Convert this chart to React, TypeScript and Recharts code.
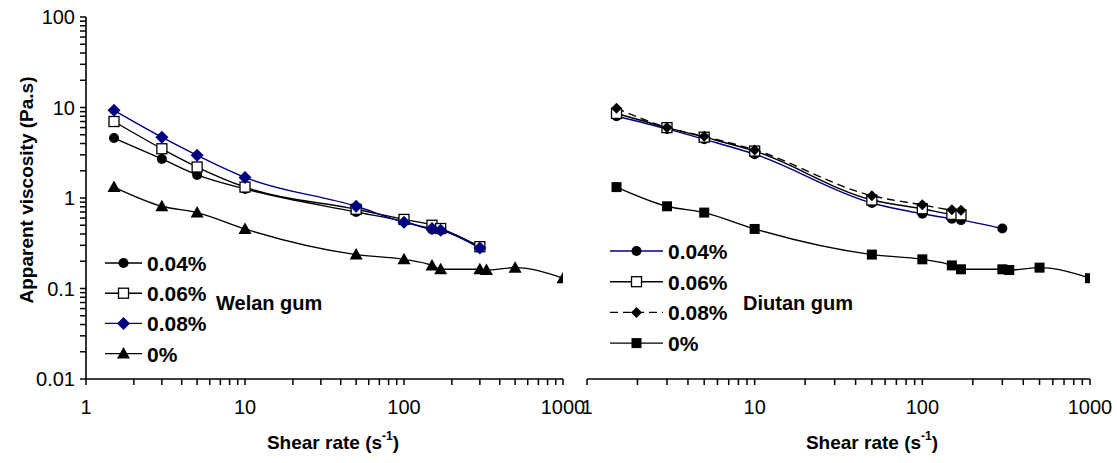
import { LineChart, Line, XAxis, YAxis } from 'recharts';

// shear rates (1/s)
const shearPoly = [1.5, 3, 5, 10, 50, 100, 150, 170, 300];
const shearPlain = [1.5, 3, 5, 10, 50, 100, 150, 170, 300, 330, 500, 1000];
const shearDiutan = [1.5, 3, 5, 10, 50, 100, 150, 170];

// apparent viscosity (Pa.s) - welan gum panel
const welan004 = [4.6, 2.7, 1.8, 1.26, 0.7, 0.55, 0.45, 0.44, 0.28];
const welan006 = [7.0, 3.5, 2.2, 1.32, 0.75, 0.58, 0.5, 0.46, 0.29];
const welan008 = [9.3, 4.7, 2.96, 1.69, 0.81, 0.54, 0.46, 0.44, 0.28];
const plain0 = [1.32, 0.81, 0.69, 0.455, 0.237, 0.21, 0.18, 0.163, 0.163, 0.16, 0.17, 0.13];

// diutan gum panel
const diutan004 = [8.0, 5.8, 4.45, 3.05, 0.88, 0.67, 0.59, 0.57, 0.46];
const diutan006 = [8.6, 6.0, 4.7, 3.3, 0.95, 0.76, 0.66, 0.65];
const diutan008 = [9.8, 6.0, 4.8, 3.4, 1.06, 0.84, 0.74, 0.73];

// axis ticks
const xMajor = [1, 10, 100, 1000];
const xLabels = ['1', '10', '100', '1000'];
const yMajor = [0.01, 0.1, 1, 10, 100];
const yLabels = ['0.01', '0.1', '1', '10', '100'];
const steps = [2, 3, 4, 5, 6, 7, 8, 9];

const FONT = '"Liberation Sans", Arial, Helvetica, sans-serif';
const NAVY = '#000080';

const withMinor = (majors: number[]) => {
    const out: number[] = [];
    majors.forEach((m, i) => {
        out.push(m);
        if (i < majors.length - 1) steps.forEach(s => out.push(m * s));
    });
    return out;
};
const xTicks = withMinor(xMajor);
const yTicks = withMinor(yMajor);

const zip = (xs: number[], ys: number[]) => ys.map((y, i) => ({ x: xs[i], y }));

const labelFor = (v: number, majors: number[], labels: string[]) => {
    const i = majors.findIndex(m => Math.abs(m - v) / m < 1e-6);
    return i >= 0 ? labels[i] : '';
};

type Kind = 'circle' | 'openSquare' | 'diamond' | 'smallDiamond' | 'triangle' | 'square';

const Marker = ({ kind, cx, cy, color = '#000' }: { kind: Kind; cx: number; cy: number; color?: string }) => {
    switch (kind) {
        case 'circle':
            return <circle cx={cx} cy={cy} r={5} fill={color} />;
        case 'openSquare':
            return <rect x={cx - 5} y={cy - 5} width={10} height={10} fill="#fff" stroke="#000" strokeWidth={1.3} />;
        case 'diamond':
            return <polygon points={`${cx},${cy - 6.5} ${cx + 6.5},${cy} ${cx},${cy + 6.5} ${cx - 6.5},${cy}`} fill={color} />;
        case 'smallDiamond':
            return <polygon points={`${cx},${cy - 5.5} ${cx + 5.5},${cy} ${cx},${cy + 5.5} ${cx - 5.5},${cy}`} fill={color} />;
        case 'triangle':
            return <polygon points={`${cx},${cy - 6.5} ${cx + 6.5},${cy + 5} ${cx - 6.5},${cy + 5}`} fill={color} />;
        default:
            return <rect x={cx - 5} y={cy - 5} width={10} height={10} fill={color} />;
    }
};

interface SeriesDef {
    name: string;
    data: { x: number; y: number }[];
    kind: Kind;
    stroke: string;
    markerColor: string;
    dash?: string;
}

// legend drawn in the overlay, same style as the series
const LegendBox = ({ items, left, top, lineLen, gap }: { items: SeriesDef[]; left: number; top: number; lineLen: number; gap: number }) => (
    <g transform={`translate(${left},${top})`}>
        {items.map((s, i) => {
            const cy = i * gap;
            return (
                <g key={s.name}>
                    <line x1={0} x2={lineLen} y1={cy} y2={cy} stroke={s.stroke} strokeWidth={1.4} strokeDasharray={s.dash} />
                    <Marker kind={s.kind} cx={lineLen / 2} cy={cy} color={s.markerColor} />
                    <text x={lineLen + 5} y={cy + 8} fontSize={21} fontWeight="bold" fontFamily={FONT} fill="#000">{s.name}</text>
                </g>
            );
        })}
    </g>
);

const tickStyle = { fontSize: 20, fill: '#000', fontFamily: FONT };

const Panel = ({ id, series, width, marginLeft, marginRight, yWidth, showYLabels }: {
    id: string; series: SeriesDef[]; width: number; marginLeft: number; marginRight: number; yWidth: number; showYLabels: boolean;
}) => (
    <LineChart id={id} width={width} height={463} margin={{ top: 17, right: marginRight, bottom: 44, left: marginLeft }}>
        <XAxis
            type="number"
            dataKey="x"
            scale="log"
            domain={[1, 1000]}
            ticks={xTicks}
            interval={0}
            allowDataOverflow
            height={40}
            stroke="#000"
            strokeWidth={1.6}
            tickSize={6}
            tickMargin={15}
            tickLine={{ stroke: '#000', strokeWidth: 1.5 }}
            tick={tickStyle}
            tickFormatter={(v: number) => labelFor(v, xMajor, xLabels)}
        />
        <YAxis
            type="number"
            dataKey="y"
            scale="log"
            domain={[0.01, 100]}
            ticks={yTicks}
            interval={0}
            allowDataOverflow
            width={yWidth}
            stroke="#000"
            strokeWidth={1.6}
            tickSize={6}
            tickMargin={5}
            tickLine={{ stroke: '#000', strokeWidth: 1.5 }}
            tick={tickStyle}
            tickFormatter={(v: number) => (showYLabels ? labelFor(v, yMajor, yLabels) : '')}
        />
        {series.map(s => (
            <Line
                key={s.name}
                name={s.name}
                data={s.data}
                dataKey="y"
                type="monotone"
                stroke={s.stroke}
                strokeWidth={1.4}
                strokeDasharray={s.dash}
                isAnimationActive={false}
                dot={(p: any) => <Marker key={`${s.name}-${p.index}`} kind={s.kind} cx={p.cx} cy={p.cy} color={s.markerColor} />}
                activeDot={false}
            />
        ))}
    </LineChart>
);

const welanSeries: SeriesDef[] = [
    { name: '0.04%', data: zip(shearPoly, welan004), kind: 'circle', stroke: '#000', markerColor: '#000' },
    { name: '0.06%', data: zip(shearPoly, welan006), kind: 'openSquare', stroke: '#000', markerColor: '#000' },
    { name: '0.08%', data: zip(shearPoly, welan008), kind: 'diamond', stroke: NAVY, markerColor: NAVY },
    { name: '0%', data: zip(shearPlain, plain0), kind: 'triangle', stroke: '#000', markerColor: '#000' },
];

const diutanSeries: SeriesDef[] = [
    { name: '0.04%', data: zip(shearPoly, diutan004), kind: 'circle', stroke: NAVY, markerColor: '#000' },
    { name: '0.06%', data: zip(shearDiutan, diutan006), kind: 'openSquare', stroke: '#000', markerColor: '#000' },
    { name: '0.08%', data: zip(shearDiutan, diutan008), kind: 'smallDiamond', stroke: '#000', markerColor: '#000', dash: '8 5' },
    { name: '0%', data: zip(shearPlain, plain0), kind: 'square', stroke: '#000', markerColor: '#000' },
];

export default function App() {
    return (
        <div style={{ position: 'absolute', left: 0, top: 0, width: 1117, height: 463, background: '#fff', fontFamily: FONT }}>
            <div style={{ position: 'absolute', left: 560, top: 0 }}>
                <Panel id="diutan" series={diutanSeries} width={557} marginLeft={27} marginRight={27} yWidth={0} showYLabels={false} />
            </div>
            <div style={{ position: 'absolute', left: 0, top: 0 }}>
                <Panel id="welan" series={welanSeries} width={600} marginLeft={26} marginRight={37} yWidth={60} showYLabels />
            </div>
            <svg width={1117} height={463} style={{ position: 'absolute', left: 0, top: 0, pointerEvents: 'none' }}>
                <LegendBox items={welanSeries} left={105} top={263} lineLen={37} gap={30.2} />
                <LegendBox items={diutanSeries} left={610} top={251} lineLen={53} gap={30.7} />
                <text transform="translate(33,190) rotate(-90)" textAnchor="middle" fontSize={19} fontWeight="bold" fontFamily={FONT}>
                    Apparent viscosity (Pa.s)
                </text>
                <text x={216} y={310} fontSize={20} fontWeight="bold" fontFamily={FONT}>Welan gum</text>
                <text x={743} y={310} fontSize={20} fontWeight="bold" fontFamily={FONT}>Diutan gum</text>
                <text x={333} y={449} textAnchor="middle" fontSize={19} fontWeight="bold" fontFamily={FONT}>
                    Shear rate (s<tspan dy={-9} fontSize={12}>-1</tspan><tspan dy={9}>)</tspan>
                </text>
                <text x={872} y={449} textAnchor="middle" fontSize={19} fontWeight="bold" fontFamily={FONT}>
                    Shear rate (s<tspan dy={-9} fontSize={12}>-1</tspan><tspan dy={9}>)</tspan>
                </text>
            </svg>
        </div>
    );
}
